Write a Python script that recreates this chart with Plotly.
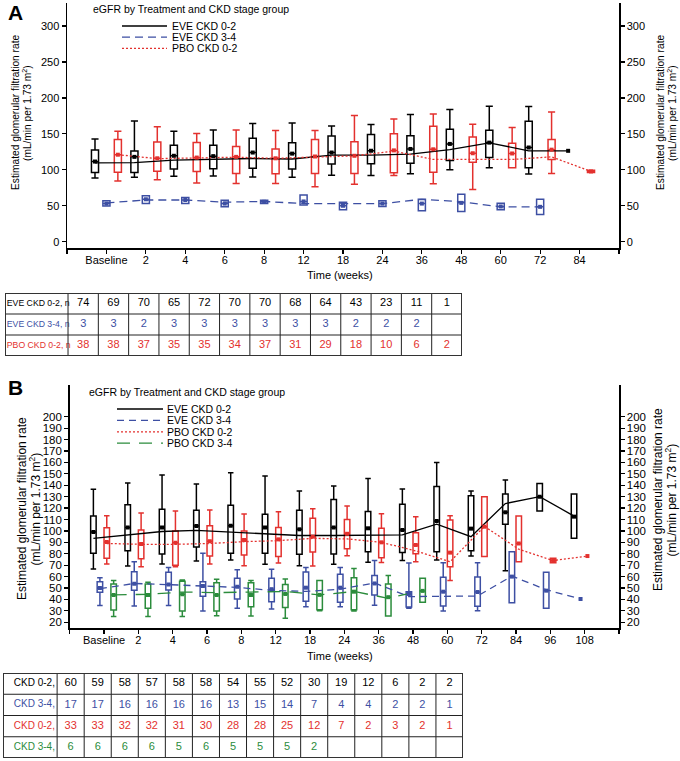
import plotly.graph_objects as go

W, H = 680, 761
FONT = "Liberation Sans, Arial, Helvetica, sans-serif"
BLACK, BLUE, RED, GREEN = "#000000", "#3D4FA3", "#E3312E", "#2B8C3C"

# ---------------- Panel A data ----------------
a_ticks = ["Baseline", "2", "4", "6", "8", "12", "18", "24", "36", "48", "60", "72", "84"]

a_eve02_lo = [88.5, 89.5, 91, 91.5, 90, 89.5, 92.3, 92, 94.5, 100, 103, 94, None]
a_eve02_q1 = [96.3, 96.3, 101, 101.5, 102, 101, 108, 108.5, 109, 113, 117, 103, None]
a_eve02_q3 = [127.5, 126.3, 134, 134, 144, 137.5, 147, 149, 147.5, 156.5, 155, 167.5, None]
a_eve02_hi = [143, 168, 153.5, 155.5, 164.5, 165, 161, 163, 177, 184, 188.5, 188, None]
a_eve02_mean = [111.5, 118, 119.5, 119, 124, 122.5, 124, 126.5, 129, 136, 137.8, 131, 126.4]
a_eve02_line = [109.7, 110, 113.4, 114.4, 115.7, 115, 120.4, 120.4, 121.8, 128, 137.5, 126.4, 126.4]

a_eve34_lo = [49.6, 53, 53, 48.6, 53, 51, 44.5, 49, 43, 42, 44.5, 37.7]
a_eve34_q1 = [49.6, 53, 53, 48.6, 53, 51, 44.5, 49, 43, 42, 44.5, 37.7]
a_eve34_q3 = [57, 64, 61.6, 57.5, 57.5, 65, 55, 57, 59, 66, 53.5, 59]
a_eve34_hi = [57, 64, 61.6, 57.5, 57.5, 65, 55, 57, 59, 66, 53.5, 59]
a_eve34_mean = [53, 59, 58, 53, 55.5, 56, 50, 53, 53, 54, 49, 48.5]
a_eve34_line = [54, 58, 58, 55, 56, 53, 53, 53, 59, 55.5, 48.5, 48.5]

a_pbo02_lo = [84.5, 86.3, 81.5, 81, 81, 76.5, 80, 92, 80.5, 72.5, 103, 95, 96.3]
a_pbo02_q1 = [96.5, 98, 97.7, 95, 94.5, 95, 95, 96, 96.5, 110.5, 103, 114.4, 96.3]
a_pbo02_q3 = [142, 138.5, 138, 132.5, 129, 142, 139, 150, 160.5, 145.5, 137, 142, 99.5]
a_pbo02_hi = [153.5, 160, 150.6, 155.5, 154.5, 154.5, 175.5, 170.5, 177.5, 163.5, 159, 180.5, 99.5]
a_pbo02_mean = [121, 116, 117, 118, 116, 118.5, 119.5, 127, 128.5, 123, 122.7, 128, 97.7]
a_pbo02_line = [121, 115.5, 116.5, 117.5, 116, 118, 119.4, 126, 114.4, 114.4, 114.4, 118, 97.7]

a_n_labels = ["EVE CKD 0-2, n", "EVE CKD 3-4, n", "PBO CKD 0-2, n"]
a_eve02_n = [74, 69, 70, 65, 72, 70, 70, 68, 64, 43, 23, 11, 1]
a_eve34_n = [3, 3, 2, 3, 3, 3, 3, 3, 3, 2, 2, 2, ""]
a_pbo02_n = [38, 38, 37, 35, 35, 34, 37, 31, 29, 18, 10, 6, 2]

# ---------------- Panel B data ----------------
b_ticks = ["Baseline", "2", "4", "6", "8", "12", "18", "24", "36", "48", "60", "72", "84", "96", "108"]

b_eve02_lo = [66.7, 69.3, 71, 73.7, 74.5, 70.8, 69.5, 70.8, 72.5, 74, 74.5, 78, 65.2, 117.4, 93.5]
b_eve02_q1 = [80.4, 82.7, 79.8, 86, 80.4, 80.4, 79.5, 79.8, 81.8, 81, 81.8, 82.7, 105.8, 117.4, 93.5]
b_eve02_q3 = [113, 123, 119, 118, 122.4, 114.5, 118, 127.6, 117, 123.3, 139, 130.8, 132.3, 141.6, 132.3]
b_eve02_hi = [136.4, 142, 149, 141, 151, 148, 135, 139.3, 146, 136.7, 160, 135, 144.6, 141.6, 132.3]
b_eve02_mean = [99, 103, 103, 104.4, 104.6, 103, 101.4, 103, 102.3, 100.8, 108.7, 102, 116.3, 130, 112.5]
b_eve02_line = [93.5, 96.5, 99.5, 100.5, 99, 98, 96, 96, 96, 96.5, 106, 95, 124, 130, 113]

b_eve34_lo = [34.6, 34.3, 34.6, 30, 32.3, 31.7, 33.7, 33.7, 35, 32.3, 30, 30.2, 37.2, 32.3, None]
b_eve34_q1 = [46.3, 48, 48.3, 42.8, 40.4, 38, 38.5, 37.5, 44, 33.5, 34.3, 34, 37.2, 32.3, None]
b_eve34_q3 = [55.6, 64.3, 63.8, 55.6, 58.5, 58.5, 64, 62, 61, 46.8, 59.4, 59.7, 81.8, 63.8, None]
b_eve34_hi = [59, 73, 68, 80.4, 66, 66.4, 68, 68, 74, 72, 72.2, 72.2, 81.8, 63.8, None]
b_eve34_mean = [50, 53.8, 53, 51.8, 51.2, 49, 50.3, 50.3, 54, 44.8, 46.8, 46.5, 60, 47.7, 40.4]
b_eve34_line = [49.5, 54, 53, 51.5, 50.5, 48, 47, 49, 54.5, 42.5, 43, 43, 60.5, 48.5, 40.4]

b_pbo02_lo = [71, 68.7, 68.7, 71, 69.6, 72, 69.3, 78.3, 72.3, 73, 56.5, 77.5, 73, 72.2, None]
b_pbo02_q1 = [76, 75.7, 70, 78, 79, 77.5, 81.5, 84.5, 76.5, 80, 68.7, 77.5, 73, 72.2, None]
b_pbo02_q3 = [102.8, 100.8, 100, 104.6, 100, 103, 111, 110, 102.3, 98.5, 109.5, 130, 113, 76, None]
b_pbo02_hi = [113.3, 115.7, 117.4, 118.3, 114.8, 116.8, 119.5, 121.8, 115, 112.5, 113.3, 130, 113, 76, None]
b_pbo02_mean = [90.3, 88.5, 89.7, 91, 92, 92.6, 95, 97.5, 90, 87.7, 81, 103.7, 89, 74, 78]
b_pbo02_line = [89, 88.3, 88.3, 89, 90.6, 91.5, 93.5, 93, 90, 82.5, 73, 104, 84, 74, 78]

b_pbo34_lo = [25, 25, 25, 25.8, 25.5, 23.5, 30.2, 30, 25.5, 37.5]
b_pbo34_q1 = [30.8, 32.3, 30, 30, 33.7, 33, 31, 31, 25.5, 37.5]
b_pbo34_q3 = [53.5, 53.5, 56, 54.7, 54.7, 53, 56.5, 59, 53.5, 58.5]
b_pbo34_hi = [56.5, 55, 57, 57.6, 56.5, 58, 56.5, 67, 61, 58.5]
b_pbo34_mean = [44, 44, 44.5, 44, 44, 44.8, 44, 46.8, 42, 47.5]
b_pbo34_line = [44, 44.5, 46.5, 46, 46.5, 47, 44, 47, 41, 48]

b_n_labels = ["CKD 0-2,", "CKD 3-4,", "CKD 0-2,", "CKD 3-4,"]
b_eve02_n = [60, 59, 58, 57, 58, 58, 54, 55, 52, 30, 19, 12, 6, 2, 2]
b_eve34_n = [17, 17, 16, 16, 16, 16, 13, 15, 14, 7, 4, 4, 2, 2, 1]
b_pbo02_n = [33, 33, 32, 32, 31, 30, 28, 28, 25, 12, 7, 2, 3, 2, 1]
b_pbo34_n = [6, 6, 6, 6, 5, 6, 5, 5, 5, 2, "", "", "", "", ""]

legend_title = "eGFR by Treatment and CKD stage group"
a_legend = [("EVE CKD 0-2", BLACK, "solid"), ("EVE CKD 3-4", BLUE, "8px,5px"), ("PBO CKD 0-2", RED, "2px,2px")]
b_legend = [("EVE CKD 0-2", BLACK, "solid"), ("EVE CKD 3-4", BLUE, "7px,5px"),
            ("PBO CKD 0-2", RED, "2px,2px"), ("PBO CKD 3-4", GREEN, "13px,9px")]

ytitle1 = "Estimated glomerular filtration rate"
ytitle2 = "(mL/min per 1.73 m<sup>2</sup>)"


def px_x(p):
    return p / W


def px_y(p):
    return 1 - p / H


fig = go.Figure()


def add_boxes(off, lo, q1, mid, q3, hi, color, width, xa, ya):
    xs, L, Q1, M, Q3, U = [], [], [], [], [], []
    for i, q in enumerate(q1):
        if q is None:
            continue
        xs.append(i + off); L.append(lo[i]); Q1.append(q); M.append(mid[i]); Q3.append(q3[i]); U.append(hi[i])
    fig.add_trace(go.Box(x=xs, lowerfence=L, q1=Q1, median=M, q3=Q3, upperfence=U, orientation="v",
                         width=width, whiskerwidth=1, line=dict(color=color, width=1.5),
                         fillcolor="rgba(0,0,0,0)", boxpoints=False, xaxis=xa, yaxis=ya,
                         showlegend=False, hoverinfo="skip"))


def add_line(off, vals, color, dash, xa, ya):
    xs = [i + off for i, v in enumerate(vals) if v is not None]
    ys = [v for v in vals if v is not None]
    fig.add_trace(go.Scatter(x=xs, y=ys, mode="lines", line=dict(color=color, dash=dash, width=1.3),
                             xaxis=xa, yaxis=ya, showlegend=False, hoverinfo="skip"))


def add_means(off, vals, color, xa, ya):
    xs = [i + off for i, v in enumerate(vals) if v is not None]
    ys = [v for v in vals if v is not None]
    fig.add_trace(go.Scatter(x=xs, y=ys, mode="markers", marker=dict(symbol="square", size=4, color=color),
                             xaxis=xa, yaxis=ya, showlegend=False, hoverinfo="skip"))


# Panel A
A_OFF = {"eve02": -0.29, "eve34": 0.0, "pbo02": 0.29}
AW = 0.18
add_boxes(A_OFF["eve02"], a_eve02_lo, a_eve02_q1, a_eve02_mean, a_eve02_q3, a_eve02_hi, BLACK, AW, "x", "y")
add_boxes(A_OFF["pbo02"], a_pbo02_lo, a_pbo02_q1, a_pbo02_mean, a_pbo02_q3, a_pbo02_hi, RED, AW, "x", "y")
add_boxes(A_OFF["eve34"], a_eve34_lo, a_eve34_q1, a_eve34_mean, a_eve34_q3, a_eve34_hi, BLUE, AW, "x", "y")
add_line(A_OFF["eve02"], a_eve02_line, BLACK, a_legend[0][2], "x", "y")
add_line(A_OFF["eve34"], a_eve34_line, BLUE, a_legend[1][2], "x", "y")
add_line(A_OFF["pbo02"], a_pbo02_line, RED, a_legend[2][2], "x", "y")
# mean markers drawn on the right-hand (mirror) axis, which has the same range
add_means(A_OFF["eve02"], a_eve02_mean, BLACK, "x", "y2")
add_means(A_OFF["eve34"], a_eve34_mean, BLUE, "x", "y2")
add_means(A_OFF["pbo02"], a_pbo02_mean, RED, "x", "y2")

# Panel B
B_OFF = {"eve02": -0.31, "eve34": -0.12, "pbo02": 0.08, "pbo34": 0.28}
BW = 0.16
add_boxes(B_OFF["eve02"], b_eve02_lo, b_eve02_q1, b_eve02_mean, b_eve02_q3, b_eve02_hi, BLACK, BW, "x2", "y3")
add_boxes(B_OFF["pbo02"], b_pbo02_lo, b_pbo02_q1, b_pbo02_mean, b_pbo02_q3, b_pbo02_hi, RED, BW, "x2", "y3")
add_boxes(B_OFF["eve34"], b_eve34_lo, b_eve34_q1, b_eve34_mean, b_eve34_q3, b_eve34_hi, BLUE, BW, "x2", "y3")
add_boxes(B_OFF["pbo34"], b_pbo34_lo, b_pbo34_q1, b_pbo34_mean, b_pbo34_q3, b_pbo34_hi, GREEN, BW, "x2", "y3")
add_line(B_OFF["eve02"], b_eve02_line, BLACK, b_legend[0][2], "x2", "y3")
add_line(B_OFF["eve34"], b_eve34_line, BLUE, b_legend[1][2], "x2", "y3")
add_line(B_OFF["pbo02"], b_pbo02_line, RED, b_legend[2][2], "x2", "y3")
add_line(B_OFF["pbo34"], b_pbo34_line, GREEN, b_legend[3][2], "x2", "y3")
add_means(B_OFF["eve02"], b_eve02_mean, BLACK, "x2", "y4")
add_means(B_OFF["eve34"], b_eve34_mean, BLUE, "x2", "y4")
add_means(B_OFF["pbo02"], b_pbo02_mean, RED, "x2", "y4")
add_means(B_OFF["pbo34"], b_pbo34_mean, GREEN, "x2", "y4")

shapes = []
annotations = []


def add_table(rows, xa, ya, label_w, label_align, font_size, label_size):
    ncol = len(rows[0][1])
    nrow = len(rows)
    xr = xa.replace("axis", "")
    yr = ya.replace("axis", "")
    for r, (label, vals, color) in enumerate(rows):
        xs = [j + 0.5 for j, v in enumerate(vals) if v != ""]
        ts = [str(v) for v in vals if v != ""]
        fig.add_trace(go.Scatter(x=xs, y=[r + 0.5] * len(xs), text=ts, mode="text",
                                 textposition="middle center", cliponaxis=False,
                                 textfont=dict(color=color, size=font_size, family=FONT),
                                 xaxis=xr, yaxis=yr, showlegend=False, hoverinfo="skip"))
        if label_align == "left":
            lx, tp = -label_w + 0.06, "middle right"
        else:
            lx, tp = -0.08, "middle left"
        fig.add_trace(go.Scatter(x=[lx], y=[r + 0.5], text=[label], mode="text", textposition=tp,
                                 cliponaxis=False, textfont=dict(color=color, size=label_size, family=FONT),
                                 xaxis=xr, yaxis=yr, showlegend=False, hoverinfo="skip"))
    for xv in range(0, ncol):
        shapes.append(dict(type="line", xref=xr, yref=yr, x0=xv, x1=xv, y0=0, y1=nrow,
                           line=dict(color="#222", width=1)))
    for yv in range(1, nrow):
        shapes.append(dict(type="line", xref=xr, yref=yr, x0=-label_w, x1=ncol, y0=yv, y1=yv,
                           line=dict(color="#222", width=1)))
    shapes.append(dict(type="rect", xref=xr, yref=yr, x0=-label_w, x1=ncol, y0=0, y1=nrow,
                       line=dict(color="#333", width=2)))


LA = 2.08
LB = 2.0
add_table([(a_n_labels[0], a_eve02_n, BLACK), (a_n_labels[1], a_eve34_n, BLUE), (a_n_labels[2], a_pbo02_n, RED)],
          "xaxis3", "yaxis5", LA, "left", 11, 8.7)
add_table([(b_n_labels[0], b_eve02_n, BLACK), (b_n_labels[1], b_eve34_n, BLUE),
           (b_n_labels[2], b_pbo02_n, RED), (b_n_labels[3], b_pbo34_n, GREEN)],
          "xaxis4", "yaxis6", LB, "right", 11, 10)


def add_legend(entries, x0, x1, xt, y_first, dy, size):
    for k, (name, color, dash) in enumerate(entries):
        yy = y_first + k * dy
        shapes.append(dict(type="line", xref="paper", yref="paper", x0=px_x(x0), x1=px_x(x1),
                           y0=px_y(yy), y1=px_y(yy), line=dict(color=color, dash=dash, width=1.3)))
        annotations.append(dict(x=px_x(xt), y=px_y(yy), xref="paper", yref="paper", text=name,
                                showarrow=False, xanchor="left", yanchor="middle",
                                font=dict(size=size, family=FONT, color=BLACK)))


add_legend(a_legend, 122, 167, 170, 26, 11.2, 10.5)
add_legend(b_legend, 117, 163, 165, 409, 11.4, 10.5)


def ann(x, y, text, size, angle=0, xanchor="center", bold=False):
    annotations.append(dict(x=px_x(x), y=px_y(y), xref="paper", yref="paper",
                            text=("<b>%s</b>" % text) if bold else text,
                            showarrow=False, xanchor=xanchor, yanchor="middle", textangle=angle,
                            font=dict(size=size, family=FONT, color=BLACK)))


ann(6, 12, "A", 21, xanchor="left", bold=True)
ann(6, 387, "B", 21, xanchor="left", bold=True)
ann(91, 9, legend_title, 10.5, xanchor="left")
ann(87, 392, legend_title, 10.5, xanchor="left")
ann(340, 275, "Time (weeks)", 11)
ann(340, 656, "Time (weeks)", 11)
# y titles panel A
ann(15, 113, ytitle1, 10.2, angle=-90)
ann(27, 113, ytitle2, 10.2, angle=-90)
ann(660, 113, ytitle1, 10.2, angle=-90)
ann(672, 113, ytitle2, 10.2, angle=-90)
# y titles panel B
ann(22, 509, ytitle1, 12, angle=-90)
ann(34.5, 509, ytitle2, 12, angle=-90)
ann(658, 500, ytitle1, 12, angle=-90)
ann(670.5, 500, ytitle2, 12, angle=-90)

axis_common = dict(showline=True, linecolor=BLACK, linewidth=1.5, ticks="outside", ticklen=4, tickwidth=1.2,
                   tickcolor=BLACK, showgrid=False, zeroline=False, fixedrange=True)

A_top, A_bot = 3, 248
B_top, B_bot = 385, 628
a_yr = [0 - (A_bot - 241.7) / 0.719, 300 + (26 - A_top) / 0.719]
b_yr = [20 - (B_bot - 622.3) / 1.1422, 200 + (416.7 - B_top) / 1.1422]

fig.update_layout(
    width=W, height=H, margin=dict(l=0, r=0, t=0, b=0),
    paper_bgcolor="white", plot_bgcolor="white", showlegend=False, boxmode="overlay",
    font=dict(family=FONT, color=BLACK),
    xaxis=dict(domain=[px_x(67), px_x(619)], range=[-1, len(a_ticks)], anchor="y",
               tickvals=list(range(-1, len(a_ticks) + 1)), ticktext=[""] + a_ticks + [""],
               ticklabelstandoff=-3,
               tickfont=dict(size=11, family=FONT, color=BLACK), **axis_common),
    yaxis=dict(domain=[px_y(A_bot), px_y(A_top)], range=a_yr, anchor="x",
               tickvals=[0, 50, 100, 150, 200, 250, 300], tickfont=dict(size=11, family=FONT, color=BLACK),
               **axis_common),
    yaxis2=dict(domain=[px_y(A_bot), px_y(A_top)], range=a_yr, anchor="x", overlaying="y", side="right",
                tickvals=[0, 50, 100, 150, 200, 250, 300], tickfont=dict(size=11, family=FONT, color=BLACK),
                **axis_common),
    xaxis2=dict(domain=[px_x(69.7), px_x(619)], range=[-1, len(b_ticks)], anchor="y3",
                tickvals=list(range(-1, len(b_ticks) + 1)), ticktext=[""] + b_ticks + [""],
                ticklabelstandoff=-3,
                tickfont=dict(size=11, family=FONT, color=BLACK), **axis_common),
    yaxis3=dict(domain=[px_y(B_bot), px_y(B_top)], range=b_yr, anchor="x2",
                tickvals=list(range(20, 201, 10)), tickfont=dict(size=11.5, family=FONT, color=BLACK),
                **axis_common),
    yaxis4=dict(domain=[px_y(B_bot), px_y(B_top)], range=b_yr, anchor="x2", overlaying="y3", side="right",
                tickvals=list(range(20, 201, 10)), tickfont=dict(size=11.5, family=FONT, color=BLACK),
                **axis_common),
    xaxis3=dict(domain=[px_x(5), px_x(462)], range=[-LA, len(a_eve02_n)], anchor="y5", visible=False,
                fixedrange=True),
    yaxis5=dict(domain=[px_y(356), px_y(293)], range=[3, 0], anchor="x3", visible=False, fixedrange=True),
    xaxis4=dict(domain=[px_x(3), px_x(463)], range=[-LB, len(b_eve02_n)], anchor="y6", visible=False,
                fixedrange=True),
    yaxis6=dict(domain=[px_y(758), px_y(673)], range=[4, 0], anchor="x4", visible=False, fixedrange=True),
    shapes=shapes, annotations=annotations,
)

fig.write_html("out.html", config={"displayModeBar": False, "staticPlot": True},
               post_script="document.body.style.margin='0px';document.body.style.padding='0px';"
                           "document.documentElement.style.overflow='hidden';")
